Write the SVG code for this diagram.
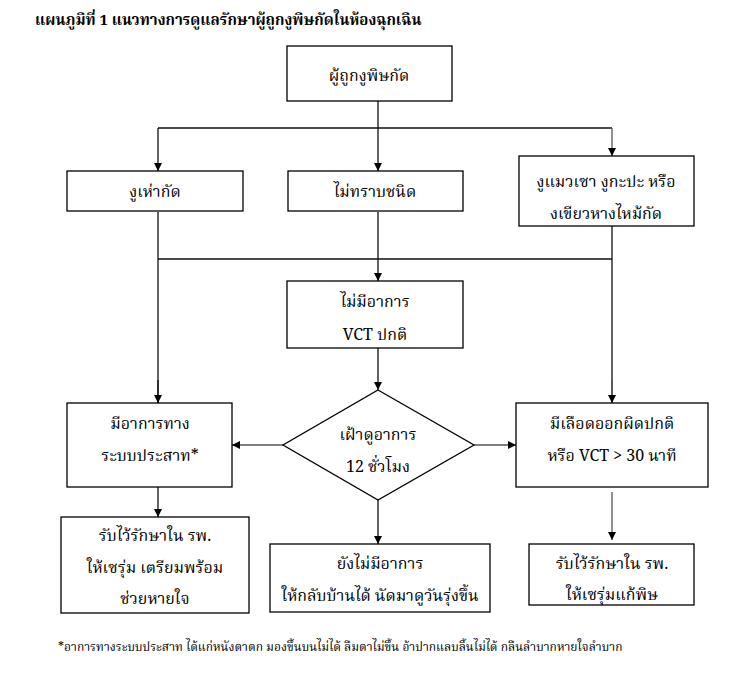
<svg xmlns="http://www.w3.org/2000/svg" width="740" height="676" viewBox="0 0 740 676">
<style>
.bx{fill:#fff;stroke:#000;stroke-width:1.3}
.t{font-family:"Noto Serif Thai","Noto Sans Thai","Liberation Serif","DejaVu Serif",serif;font-size:16px;fill:#000;text-anchor:middle}
.ln{fill:none;stroke:#111;stroke-width:1.3}
.lg{fill:none;stroke:#555;stroke-width:1.3}
</style>
<defs>
<marker id="ah" viewBox="0 0 10 10" refX="10" refY="5" markerWidth="8" markerHeight="9" markerUnits="userSpaceOnUse" orient="auto">
<path d="M0,0 L10,5 L0,10 Z" fill="#000"/>
</marker>
</defs>
<rect width="740" height="676" fill="#fff"/>
<text x="35" y="25" style="font-family:'Noto Serif Thai','Noto Sans Thai','Liberation Serif',serif;font-size:15px;font-weight:bold">แผนภูมิที่ 1 แนวทางการดูแลรักษาผู้ถูกงูพิษกัดในห้องฉุกเฉิน</text>
<g id="connectors">
<path class="ln" d="M378,101 V128 M158,128 H612 M158,212 V259 M378,212 V259 M158,259 H612 M158,259 V487 M612,226 V259 V403"/>
<line class="ln" x1="378" y1="128" x2="378" y2="171" marker-end="url(#ah)"/>
<line class="ln" x1="158" y1="128" x2="158" y2="171" marker-end="url(#ah)"/>
<line class="lg" x1="612" y1="128" x2="612" y2="156" marker-end="url(#ah)"/>
<line class="ln" x1="378" y1="259" x2="378" y2="281" marker-end="url(#ah)"/>
<line class="ln" x1="158" y1="380" x2="158" y2="403" marker-end="url(#ah)"/>
<line class="lg" x1="612" y1="380" x2="612" y2="403" marker-end="url(#ah)"/>
<line class="ln" x1="378" y1="348" x2="378" y2="390" marker-end="url(#ah)"/>
<line class="lg" x1="283" y1="445" x2="232" y2="445" marker-end="url(#ah)"/>
<line class="lg" x1="474" y1="445" x2="516" y2="445" marker-end="url(#ah)"/>
<line class="ln" x1="158" y1="487" x2="158" y2="517" marker-end="url(#ah)"/>
<line class="ln" x1="378" y1="500" x2="378" y2="544" marker-end="url(#ah)"/>
<line class="lg" x1="612" y1="492" x2="612" y2="540" marker-end="url(#ah)"/>
</g>
<g id="n-victim"><rect class="bx" x="287" y="46" width="165" height="55"/><text class="t" x="369" y="81">ผู้ถูกงูพิษกัด</text></g>
<g id="n-cobra"><rect class="bx" x="67" y="171" width="176" height="40"/><text class="t" x="155" y="197">งูเห่ากัด</text></g>
<g id="n-unknown"><rect class="bx" x="288" y="171" width="175" height="40"/><text class="t" x="375" y="197">ไม่ทราบชนิด</text></g>
<g id="n-viper"><rect class="bx" x="519" y="156" width="175" height="70"/><text class="t" x="606" y="187">งูแมวเซา งูกะปะ หรือ</text><text class="t" x="606" y="219">งเขียวหางไหม้กัด</text></g>
<g id="n-nosymptom"><rect class="bx" x="287" y="281" width="176" height="67"/><text class="t" x="375" y="307">ไม่มีอาการ</text><text class="t" x="375" y="340">VCT ปกติ</text></g>
<g id="n-observe"><polygon class="bx" points="378,390 474,445 378,500 283,445"/><text class="t" x="378" y="440">เฝ้าดูอาการ</text><text class="t" x="378" y="472">12 ชั่วโมง</text></g>
<g id="n-neuro"><rect class="bx" x="67" y="403" width="165" height="84"/><text class="t" x="150" y="429">มีอาการทาง</text><text class="t" x="150" y="461">ระบบประสาท*</text></g>
<g id="n-bleed"><rect class="bx" x="516" y="403" width="192" height="84"/><text class="t" x="612" y="429">มีเลือดออกผิดปกติ</text><text class="t" x="612" y="461">หรือ VCT &gt; 30 นาที</text></g>
<g id="n-admit1"><rect class="bx" x="61" y="517" width="188" height="96"/><text class="t" x="155" y="541">รับไว้รักษาใน รพ.</text><text class="t" x="155" y="573">ให้เซรุ่ม เตรียมพร้อม</text><text class="t" x="155" y="604">ช่วยหายใจ</text></g>
<g id="n-home"><rect class="bx" x="270" y="544" width="220" height="68"/><text class="t" x="380" y="569">ยังไม่มีอาการ</text><text class="t" x="380" y="601">ให้กลับบ้านได้ นัดมาดูวันรุ่งขึ้น</text></g>
<g id="n-admit2"><rect class="bx" x="529" y="544" width="165" height="61"/><text class="t" x="612" y="569">รับไว้รักษาใน รพ.</text><text class="t" x="612" y="600">ให้เซรุ่มแก้พิษ</text></g>
<text x="58" y="651" style="font-family:'Noto Serif Thai','Noto Sans Thai','Liberation Serif',serif;font-size:12px">*อาการทางระบบประสาท ได้แก่หนังตาตก มองขึ้นบนไม่ได้ ลืมตาไม่ขึ้น อ้าปากแลบลิ้นไม่ได้ กลืนลำบากหายใจลำบาก</text>
</svg>
